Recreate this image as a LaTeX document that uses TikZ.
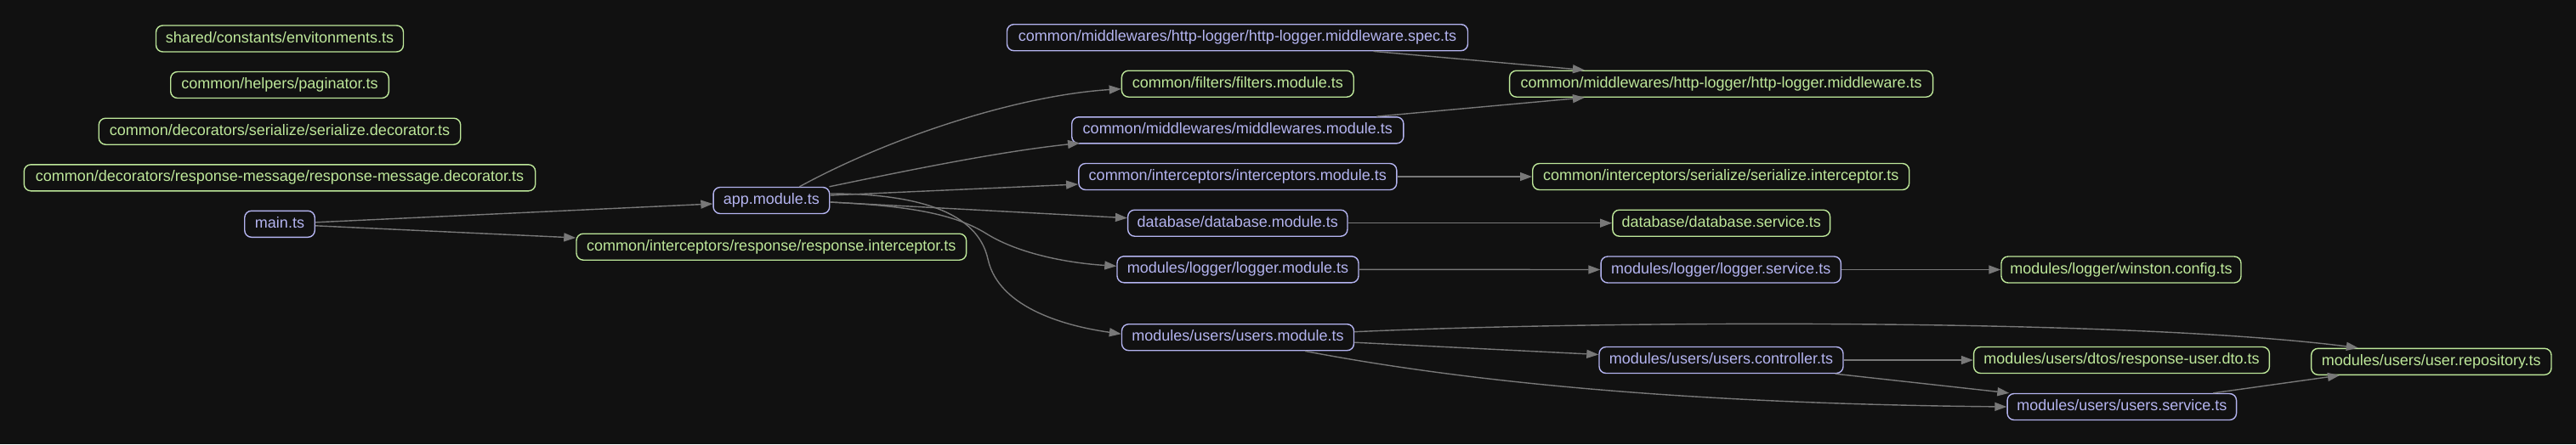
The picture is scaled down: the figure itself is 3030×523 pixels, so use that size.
\documentclass[tikz,border=0pt]{standalone}
\usepackage{fontspec}
\setmainfont{Liberation Sans}
\usetikzlibrary{arrows.meta}
\definecolor{bgc}{HTML}{111111}
\definecolor{bluec}{HTML}{B4B4F0}
\definecolor{greenc}{HTML}{BEE89A}
\definecolor{edgec}{HTML}{787878}
\begin{document}
\begin{tikzpicture}[x=1pt,y=-1pt,
  filebox/.style={draw, rounded corners=8pt, line width=1.4pt, fill=bgc,
    minimum height=31pt, inner xsep=8pt, inner ysep=0pt,
    text height=13pt, text depth=4pt,
    font=\fontsize{18pt}{21pt}\selectfont},
  bnode/.style={filebox, draw=bluec, text=bluec},
  gnode/.style={filebox, draw=greenc, text=greenc},
  dep/.style={draw=edgec, line width=1.4pt,
    -{Triangle[length=14pt,width=10pt]}, edgec}]
\fill[bgc] (0,0) rectangle (3030,523);
\useasboundingbox (0,0) rectangle (3030,523);

% left column
\node[gnode, minimum width=291pt]   (env)   at (329,45.5)  {shared/constants/envitonments.ts};
\node[gnode, minimum width=256.6pt] (pag)   at (329,100)   {common/helpers/paginator.ts};
\node[gnode, minimum width=425.5pt] (serdec) at (329,154.7) {common/decorators/serialize/serialize.decorator.ts};
\node[gnode, minimum width=601.4pt] (respmsg) at (329,209.3) {common/decorators/response-message/response-message.decorator.ts};
\node[bnode, minimum width=82.5pt]  (main)  at (329,263.8) {main.ts};

% second column
\node[bnode, minimum width=136.7pt] (app)    at (907.4,236)   {app.module.ts};
\node[gnode, minimum width=458.6pt] (respint) at (907.3,290.7) {common/interceptors/response/response.interceptor.ts};

% third column
\node[bnode, minimum width=542pt]   (spec)   at (1455.5,44.2)  {common/middlewares/http-logger/http-logger.middleware.spec.ts};
\node[gnode, minimum width=272.8pt] (filters) at (1455.8,98.7) {common/filters/filters.module.ts};
\node[bnode, minimum width=390.2pt] (mwmod)  at (1455.8,153.3) {common/middlewares/middlewares.module.ts};
\node[bnode, minimum width=374pt]   (intmod) at (1455.8,208)   {common/interceptors/interceptors.module.ts};
\node[bnode, minimum width=258.3pt] (dbmod)  at (1455.8,262.7) {database/database.module.ts};
\node[bnode, minimum width=284pt]   (logmod) at (1456,317.3)   {modules/logger/logger.module.ts};
\node[bnode, minimum width=273pt]   (usersmod) at (1456,397.2) {modules/users/users.module.ts};

% fourth column
\node[gnode, minimum width=498pt]   (httplog) at (2024.6,98.7) {common/middlewares/http-logger/http-logger.middleware.ts};
\node[gnode, minimum width=443pt]   (serint)  at (2024.2,208)  {common/interceptors/serialize/serialize.interceptor.ts};
\node[gnode, minimum width=255.8pt] (dbserv)  at (2024.7,262.7) {database/database.service.ts};
\node[bnode, minimum width=282.3pt] (logserv) at (2024.2,317.5) {modules/logger/logger.service.ts};
\node[bnode, minimum width=287pt]   (ctrl)    at (2024.5,424)  {modules/users/users.controller.ts};

% fifth column
\node[gnode, minimum width=282pt]   (winston) at (2495,317.5)  {modules/logger/winston.config.ts};
\node[gnode, minimum width=347.8pt] (dto)     at (2495.5,424)  {modules/users/dtos/response-user.dto.ts};
\node[bnode, minimum width=269.5pt] (service) at (2495.8,479)  {modules/users/users.service.ts};

% sixth column
\node[gnode, minimum width=282.4pt] (repo)    at (2859.8,425.8) {modules/users/user.repository.ts};

% connectors
\draw[dep] ([yshift=2pt]main.east) -- ([yshift=-4pt]app.west);
\draw[dep] ([yshift=-2pt]main.east) -- ([yshift=10.7pt]respint.west);

\draw[dep] ([xshift=33pt]app.north) .. controls (1050,160) and (1200,112) .. ([yshift=-6pt]filters.west);
\draw[dep] ([xshift=-1pt]app.north east) .. controls (1080,198) and (1180,178) .. ([xshift=10pt,yshift=1pt]mwmod.south west);
\draw[dep] ([yshift=6pt]app.east) -- ([yshift=-9pt]intmod.west);
\draw[dep] ([yshift=-2pt]app.east) -- ([yshift=6pt]dbmod.west);
\draw[dep] ([yshift=-2pt]app.east) .. controls (1060,242) and (1120,250) .. (1160,275)
            .. controls (1200,300) and (1260,310) .. ([yshift=4pt]logmod.west);
\draw[dep] ([yshift=8pt]app.east) .. controls (1080,228) and (1150,250) .. (1162,305)
            .. controls (1175,365) and (1260,385) .. ([yshift=4pt]usersmod.west);

\draw[dep] ([xshift=160pt]spec.south) -- ([xshift=89pt]httplog.north west);
\draw[dep] ([xshift=163.6pt]mwmod.north) -- ([xshift=89pt]httplog.south west);
\draw[dep] (intmod.east) -- (serint.west);
\draw[dep] (dbmod.east) -- (dbserv.west);
\draw[dep] (logmod.east) -- (logserv.west);
\draw[dep] (logserv.east) -- (winston.west);

\draw[dep] ([yshift=6.5pt]usersmod.east) .. controls (1900,377) and (2500,375) .. ([xshift=-86pt]repo.north);
\draw[dep] ([yshift=-6pt]usersmod.east) -- ([yshift=6.5pt]ctrl.west);
\draw[dep] ([xshift=79pt]usersmod.south) .. controls (1700,445) and (1950,475) .. (service.west);
\draw[dep] (ctrl.east) -- (dto.west);
\draw[dep] ([xshift=-10pt]ctrl.south east) -- ([xshift=3pt]service.north west);
\draw[dep] ([xshift=-28pt]service.north east) -- ([xshift=34pt]repo.south west);
\end{tikzpicture}
\end{document}
